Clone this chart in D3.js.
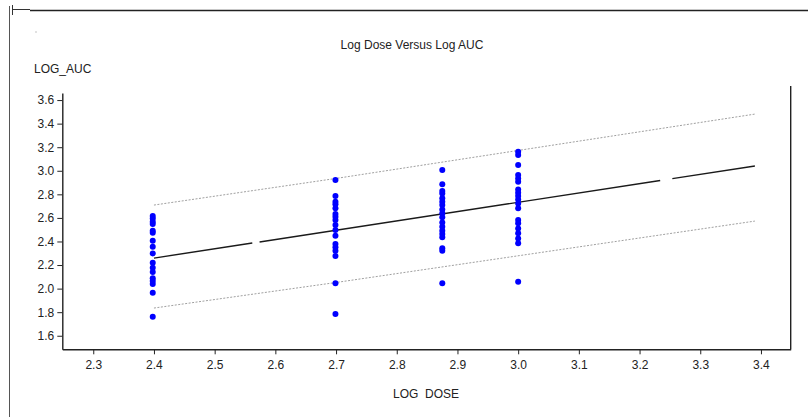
<!DOCTYPE html>
<html>
<head>
<meta charset="utf-8">
<script src="https://cdn.jsdelivr.net/npm/d3@7/dist/d3.min.js"></script>
<style>
  html, body { margin: 0; padding: 0; background: #fff; }
  svg { display: block; font-family: "Liberation Sans", Arial, sans-serif; }
</style>
</head>
<body>
<svg id="chart" width="808" height="417"></svg>
<script>
// Tick labels on each axis
const xTicks = [2.3, 2.4, 2.5, 2.6, 2.7, 2.8, 2.9, 3.0, 3.1, 3.2, 3.3, 3.4];
const yTicks = [1.6, 1.8, 2.0, 2.2, 2.4, 2.6, 2.8, 3.0, 3.2, 3.4, 3.6];

// Observed log AUC values at each log dose level
const dose240 = [2.616, 2.596, 2.567, 2.548, 2.491, 2.474, 2.406, 2.355, 2.299, 2.219, 2.177, 2.141, 2.087, 2.064, 2.039, 1.965, 1.761];
const dose270 = [2.921, 2.785, 2.737, 2.715, 2.681, 2.633, 2.610, 2.582, 2.539, 2.497, 2.449, 2.378, 2.350, 2.321, 2.276, 2.045, 1.784];
const dose2875 = [3.006, 2.885, 2.828, 2.808, 2.766, 2.737, 2.709, 2.672, 2.639, 2.605, 2.562, 2.525, 2.491, 2.463, 2.435, 2.342, 2.321, 2.045];
const dose300 = [3.161, 3.133, 3.048, 2.964, 2.935, 2.907, 2.842, 2.814, 2.785, 2.757, 2.723, 2.681, 2.582, 2.554, 2.511, 2.469, 2.426, 2.384, 2.058];
const doseLevels = [2.398, 2.699, 2.875, 3.0];

// Fitted regression line (null entries are breaks in the drawn trace)
const fitX = [2.4, 2.562, null, 2.574, 3.234, null, 3.254, 3.39];
const fitY = [2.259, 2.387, null, 2.396, 2.917, null, 2.933, 3.04];

// Upper and lower prediction limits
const bandX = [2.4, 2.7, 3.39];
const upperY = [2.709, 2.935, 3.481];
const lowerY = [1.835, 2.052, 2.573];

const svg = d3.select("#chart");

const x = d3.scaleLinear().domain([2.249, 3.449]).range([62.3, 790.7]);
const y = d3.scaleLinear().domain([1.485, 3.66]).range([349.3, 93]);

// Outer frame lines
svg.append("line").attr("x1", 12).attr("x2", 30).attr("y1", 9.5).attr("y2", 9.5)
  .attr("stroke", "#333").attr("stroke-width", 1);
svg.append("line").attr("x1", 30).attr("x2", 808).attr("y1", 10.5).attr("y2", 10.5)
  .attr("stroke", "#222").attr("stroke-width", 1.6);
svg.append("line").attr("x1", 9.5).attr("x2", 9.5).attr("y1", 6).attr("y2", 417)
  .attr("stroke", "#555").attr("stroke-width", 1);
svg.append("line").attr("x1", 12.5).attr("x2", 12.5).attr("y1", 5).attr("y2", 15)
  .attr("stroke", "#333").attr("stroke-width", 1);
svg.append("rect").attr("x", 35.5).attr("y", 31.5).attr("width", 1).attr("height", 1).attr("fill", "#888");

// Titles
svg.append("text").attr("x", 412).attr("y", 49).attr("text-anchor", "middle")
  .attr("font-size", 12).attr("fill", "#222").text("Log Dose Versus Log AUC");
svg.append("text").attr("x", 34).attr("y", 73)
  .attr("font-size", 12).attr("fill", "#222").text("LOG_AUC");
svg.append("text").attr("x", 426).attr("y", 398).attr("text-anchor", "middle")
  .attr("font-size", 12).attr("fill", "#222").style("white-space", "pre").text("LOG  DOSE");

// Axes
const yAxis = svg.append("g").attr("transform", "translate(62.3,0)")
  .call(d3.axisLeft(y).tickValues(yTicks).tickFormat(d3.format(".1f")).tickSize(5).tickSizeOuter(0).tickPadding(3));
const xAxis = svg.append("g").attr("transform", "translate(0,349.3)")
  .call(d3.axisBottom(x).tickValues(xTicks).tickFormat(d3.format(".1f")).tickSize(5).tickSizeOuter(0).tickPadding(6));
[yAxis, xAxis].forEach(g => {
  g.selectAll("path.domain").attr("stroke", "#222").attr("stroke-width", 1.4);
  g.selectAll(".tick line").attr("stroke", "#222");
  g.selectAll(".tick text").attr("font-size", 12).attr("fill", "#222")
    .attr("font-family", "'Liberation Sans', Arial, sans-serif");
});

// Right-hand border of the plot area
svg.append("line").attr("x1", x(3.449)).attr("x2", x(3.449)).attr("y1", 86).attr("y2", y(1.485))
  .attr("stroke", "#222").attr("stroke-width", 1.4);

// Prediction limits (dotted)
const bandLine = d3.line().x(d => x(d[0])).y(d => y(d[1]));
[upperY, lowerY].forEach(vals => {
  svg.append("path").datum(bandX.map((v, i) => [v, vals[i]]))
    .attr("d", bandLine).attr("fill", "none")
    .attr("stroke", "#a0a0a0").attr("stroke-width", 1).attr("stroke-dasharray", "2,1.5");
});

// Fitted line
const fitLine = d3.line().defined(d => d[0] !== null).x(d => x(d[0])).y(d => y(d[1]));
svg.append("path").datum(fitX.map((v, i) => [v, fitY[i]]))
  .attr("d", fitLine).attr("fill", "none")
  .attr("stroke", "#1a1a1a").attr("stroke-width", 1.4);

// Observations
const groups = [dose240, dose270, dose2875, dose300];
groups.forEach((vals, gi) => {
  svg.append("g").selectAll("circle").data(vals).join("circle")
    .attr("cx", x(doseLevels[gi])).attr("cy", d => y(d)).attr("r", 3)
    .attr("fill", "#0000ff");
});
</script>
</body>
</html>
